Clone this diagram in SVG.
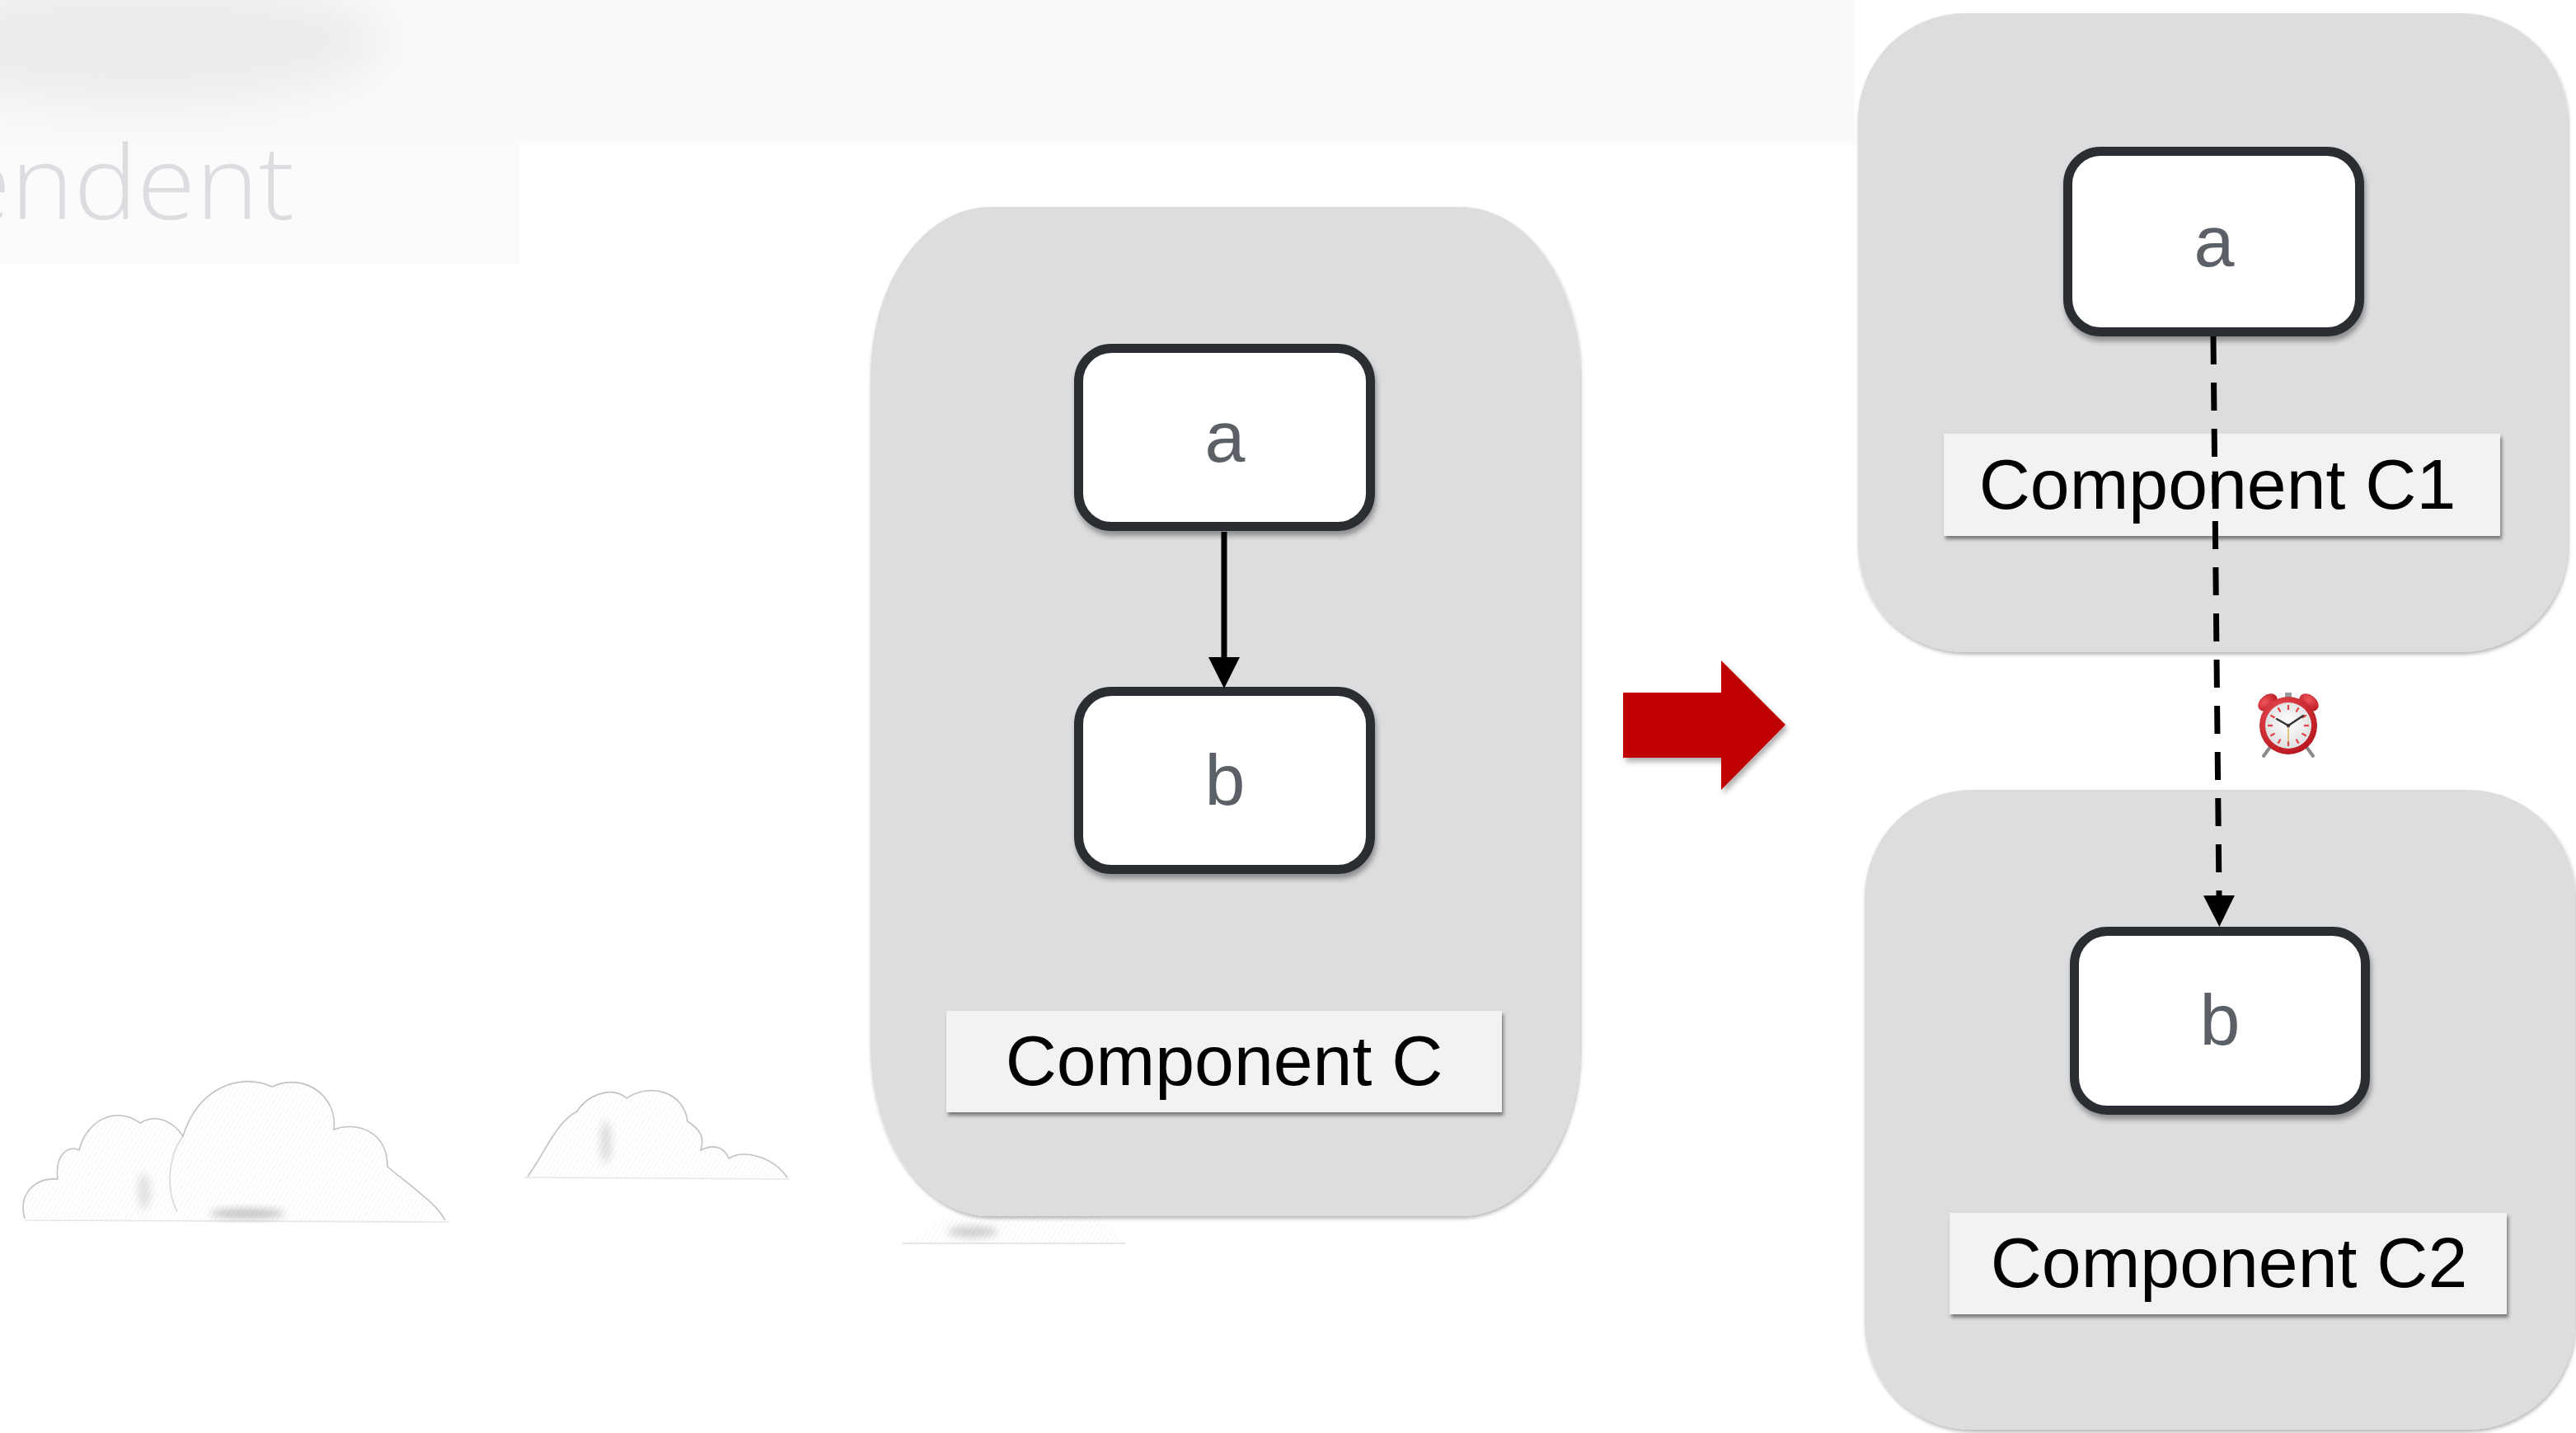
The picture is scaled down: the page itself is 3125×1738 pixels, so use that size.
<svg xmlns="http://www.w3.org/2000/svg" xmlns:xlink="http://www.w3.org/1999/xlink" width="3125" height="1738" viewBox="0 0 3125 1738">
  <style>
    .container { fill: #dcdddf; }
    .node-box { fill: #ffffff; stroke: #2b2d31; stroke-width: 11; }
    .node-text { font-family: "Liberation Sans", Arial, sans-serif; font-size: 88px; fill: #5b5f66; text-anchor: middle; }
    .label-box { fill: #f2f2f2; }
    .label-text { font-family: "Liberation Sans", Arial, sans-serif; font-size: 86px; fill: #000000; text-anchor: middle; }
    .edge { fill: none; stroke: #000000; stroke-width: 7; }
    .edge-dashed { stroke-dasharray: 34 22; }
    .cloud-line { fill: none; stroke: #c2c2c2; stroke-width: 1.6; }
    .cloud-fill { fill: url(#hatch); opacity: 0.22; }
  </style>
  <defs>
    <filter id="container-shadow" x="-5%" y="-5%" width="110%" height="110%">
      <feDropShadow dx="1" dy="3" stdDeviation="2" flood-color="#000" flood-opacity="0.28"/>
    </filter>
    <filter id="node-shadow" x="-10%" y="-10%" width="120%" height="130%">
      <feDropShadow dx="2" dy="6" stdDeviation="3" flood-color="#000" flood-opacity="0.35"/>
    </filter>
    <filter id="label-shadow" x="-5%" y="-10%" width="110%" height="130%">
      <feDropShadow dx="2" dy="4" stdDeviation="2" flood-color="#000" flood-opacity="0.45"/>
    </filter>
    <filter id="arrow-shadow" x="-10%" y="-10%" width="125%" height="130%">
      <feDropShadow dx="3" dy="5" stdDeviation="3" flood-color="#000" flood-opacity="0.3"/>
    </filter>
    <filter id="haze" x="-50%" y="-50%" width="200%" height="200%">
      <feGaussianBlur stdDeviation="30"/>
    </filter>
    <filter id="soft" x="-50%" y="-50%" width="200%" height="200%">
      <feGaussianBlur stdDeviation="5"/>
    </filter>
    <pattern id="hatch" width="5" height="5" patternUnits="userSpaceOnUse" patternTransform="rotate(30)">
      <line x1="0" y1="0" x2="0" y2="5" stroke="#8a8a8a" stroke-width="0.8"/>
    </pattern>
    <radialGradient id="clock-body" cx="40%" cy="35%" r="70%">
      <stop offset="0" stop-color="#f0575e"/>
      <stop offset="1" stop-color="#b5141c"/>
    </radialGradient>
    <radialGradient id="clock-face" cx="50%" cy="45%" r="60%">
      <stop offset="0" stop-color="#ffffff"/>
      <stop offset="1" stop-color="#dcdcdc"/>
    </radialGradient>
    <marker id="arrowhead" viewBox="0 -19 38 38" refX="0" refY="0" markerWidth="38" markerHeight="38" markerUnits="userSpaceOnUse" orient="auto">
      <path d="M0,-19 L38,0 L0,19 z" fill="#000000"/>
    </marker>
    <line id="tick" x1="0" y1="-25" x2="0" y2="-19" stroke="#e0444b" stroke-width="2.2"/>
  </defs>

  <!-- page background -->
  <rect x="0" y="0" width="3125" height="1738" fill="#ffffff"/>
  <rect x="0" y="0" width="2250" height="175" fill="#fafafa"/>
  <rect x="0" y="175" width="630" height="145" fill="#fbfbfb"/>
  <ellipse cx="170" cy="50" rx="300" ry="80" fill="#ececec" filter="url(#haze)"/>
  <text x="357" y="266" text-anchor="end" textLength="415" lengthAdjust="spacingAndGlyphs" font-family="'Open Sans', 'Liberation Sans', sans-serif" font-weight="300" font-size="124" fill="#dcdde0">endent</text>

  <!-- sketched clouds -->
  <g id="clouds">
    <g id="cloud-1">
      <path class="cloud-fill" d="M30,1478 C22,1450 40,1428 70,1430 C66,1400 84,1388 96,1395 C104,1360 140,1340 170,1362 C190,1350 210,1360 222,1378 C240,1320 290,1300 330,1318 C370,1300 410,1330 405,1370 C430,1360 470,1370 470,1415 C500,1440 530,1460 540,1480 Z"/>
      <path class="cloud-line" d="M30,1478 C22,1450 40,1428 70,1430 C66,1400 84,1388 96,1395 C104,1360 140,1340 170,1362 C190,1350 210,1360 222,1378 C240,1320 290,1300 330,1318 C370,1300 410,1330 405,1370 C430,1360 470,1370 470,1415 C500,1440 530,1460 540,1480"/>
      <path class="cloud-line" d="M222,1378 C205,1400 200,1440 215,1470" opacity="0.6"/>
      <path class="cloud-line" d="M30,1480 L545,1482" opacity="0.4"/>
      <ellipse cx="300" cy="1472" rx="45" ry="6" fill="#555" opacity="0.35" filter="url(#soft)"/>
      <ellipse cx="175" cy="1445" rx="8" ry="22" fill="#777" opacity="0.2" filter="url(#soft)"/>
    </g>
    <g id="cloud-2">
      <path class="cloud-fill" d="M640,1427 C660,1400 675,1360 700,1348 C715,1325 745,1318 760,1332 C790,1312 830,1325 834,1360 C850,1370 855,1380 850,1395 C870,1385 880,1395 884,1405 C900,1395 935,1400 955,1428 Z"/>
      <path class="cloud-line" d="M640,1427 C660,1400 675,1360 700,1348 C715,1325 745,1318 760,1332 C790,1312 830,1325 834,1360 C850,1370 855,1380 850,1395 C870,1385 880,1395 884,1405 C900,1395 935,1400 955,1428"/>
      <path class="cloud-line" d="M636,1428 L958,1430" opacity="0.4"/>
      <ellipse cx="735" cy="1385" rx="7" ry="26" fill="#666" opacity="0.2" filter="url(#soft)"/>
    </g>
    <g id="cloud-3">
      <path class="cloud-fill" d="M1100,1508 C1130,1490 1150,1470 1180,1462 C1230,1455 1290,1460 1320,1470 C1340,1480 1355,1495 1360,1508 Z"/>
      <path class="cloud-line" d="M1095,1508 L1365,1508" opacity="0.5"/>
      <ellipse cx="1180" cy="1494" rx="30" ry="7" fill="#666" opacity="0.3" filter="url(#soft)"/>
    </g>
  </g>

  <!-- component C (before split) -->
  <g id="component-c">
    <rect class="container" x="1056" y="251" width="861" height="1224" rx="145" ry="205" filter="url(#container-shadow)"/>
    <g id="label-component-c">
      <rect class="label-box" x="1148" y="1226" width="674" height="123" filter="url(#label-shadow)"/>
      <text class="label-text" x="1485" y="1316">Component C</text>
    </g>
  </g>
  <g id="node-c-a">
    <rect class="node-box" x="1308.5" y="422.5" width="354" height="216" rx="40" filter="url(#node-shadow)"/>
    <text class="node-text" x="1486" y="560">a</text>
  </g>
  <g id="node-c-b">
    <rect class="node-box" x="1308.5" y="838.5" width="354" height="216" rx="40" filter="url(#node-shadow)"/>
    <text class="node-text" x="1486" y="976">b</text>
  </g>

  <!-- transformation arrow -->
  <g id="split-arrow">
    <polygon points="1969,840 2088,840 2088,801 2166,879 2088,958 2088,919 1969,919" fill="#c00000" filter="url(#arrow-shadow)"/>
  </g>

  <!-- component C1 -->
  <g id="component-c1">
    <rect class="container" x="2254" y="16" width="861" height="775" rx="130" filter="url(#container-shadow)"/>
    <g id="label-component-c1">
      <rect class="label-box" x="2358" y="526" width="675" height="124" filter="url(#label-shadow)"/>
      <text class="label-text" x="2690" y="617">Component C1</text>
    </g>
  </g>
  <g id="node-c1-a">
    <rect class="node-box" x="2508.5" y="183.5" width="354" height="219" rx="40" filter="url(#node-shadow)"/>
    <text class="node-text" x="2686" y="323">a</text>
  </g>

  <!-- component C2 -->
  <g id="component-c2">
    <rect class="container" x="2262" y="958" width="862" height="776" rx="130" filter="url(#container-shadow)"/>
    <g id="label-component-c2">
      <rect class="label-box" x="2365" y="1471" width="676" height="123" filter="url(#label-shadow)"/>
      <text class="label-text" x="2704" y="1561">Component C2</text>
    </g>
  </g>
  <g id="node-c2-b">
    <rect class="node-box" x="2516.5" y="1129.5" width="353" height="217" rx="40" filter="url(#node-shadow)"/>
    <text class="node-text" x="2693" y="1267">b</text>
  </g>

  <!-- connectors -->
  <g id="connectors">
    <line class="edge" x1="1485" y1="645" x2="1485" y2="797" marker-end="url(#arrowhead)"/>
    <line class="edge edge-dashed" x1="2685" y1="408" x2="2692" y2="1086" marker-end="url(#arrowhead)"/>
  </g>

  <!-- alarm clock badge on the deferred edge -->
  <g id="alarm-clock" transform="translate(2776,880)">
    <line x1="-22" y1="26" x2="-30" y2="37" stroke="#8a8a8a" stroke-width="4" stroke-linecap="round"/>
    <line x1="22" y1="26" x2="30" y2="37" stroke="#8a8a8a" stroke-width="4" stroke-linecap="round"/>
    <rect x="-4" y="-40" width="8" height="6" fill="#9a9a9a"/>
    <ellipse cx="-25" cy="-28" rx="13" ry="9" transform="rotate(-38,-25,-28)" fill="url(#clock-body)"/>
    <ellipse cx="25" cy="-28" rx="13" ry="9" transform="rotate(38,25,-28)" fill="url(#clock-body)"/>
    <circle cx="0" cy="0" r="35" fill="url(#clock-body)"/>
    <circle cx="0" cy="0" r="28" fill="url(#clock-face)"/>
    <use xlink:href="#tick" transform="rotate(0)"/>
    <use xlink:href="#tick" transform="rotate(30)"/>
    <use xlink:href="#tick" transform="rotate(60)"/>
    <use xlink:href="#tick" transform="rotate(90)"/>
    <use xlink:href="#tick" transform="rotate(120)"/>
    <use xlink:href="#tick" transform="rotate(150)"/>
    <use xlink:href="#tick" transform="rotate(180)"/>
    <use xlink:href="#tick" transform="rotate(210)"/>
    <use xlink:href="#tick" transform="rotate(240)"/>
    <use xlink:href="#tick" transform="rotate(270)"/>
    <use xlink:href="#tick" transform="rotate(300)"/>
    <use xlink:href="#tick" transform="rotate(330)"/>
    <line x1="0" y1="0" x2="-14" y2="-8" stroke="#333" stroke-width="2.5" stroke-linecap="round"/>
    <line x1="0" y1="0" x2="18" y2="-12" stroke="#333" stroke-width="2.5" stroke-linecap="round"/>
    <line x1="0" y1="0" x2="0" y2="20" stroke="#d9a441" stroke-width="1.2"/>
    <circle cx="0" cy="0" r="2.2" fill="#333"/>
  </g>
</svg>
